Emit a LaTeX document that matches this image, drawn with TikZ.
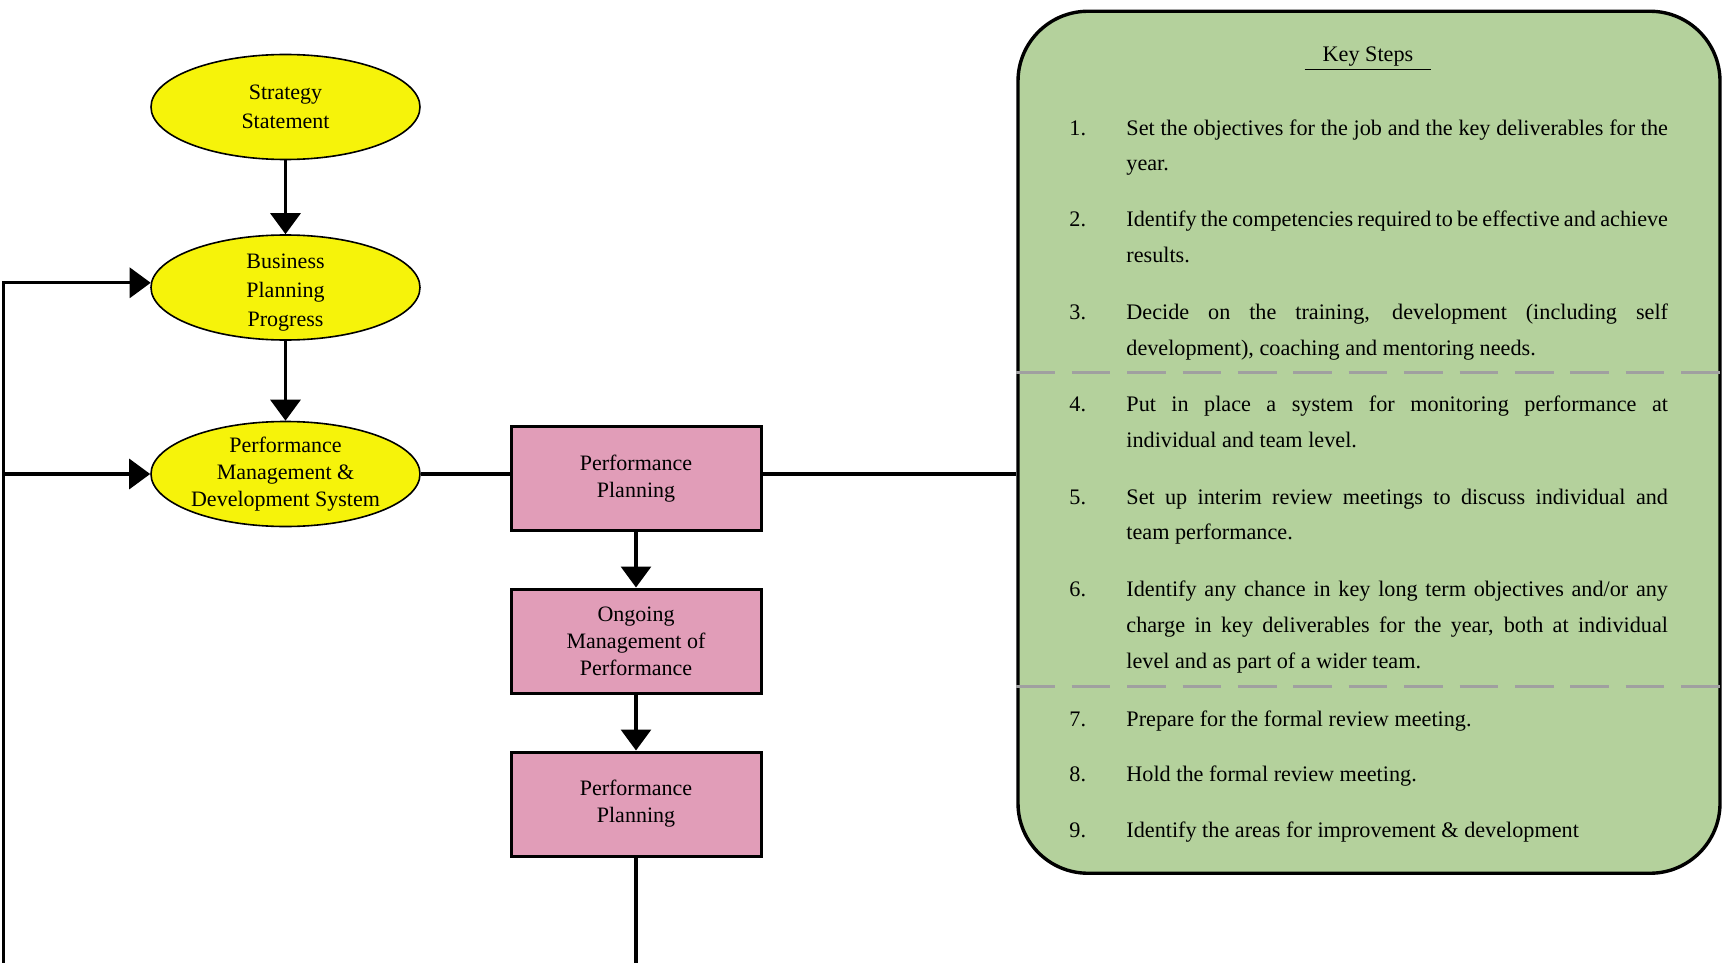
\documentclass[tikz,border=0pt]{standalone}
\usepackage{fontspec}
\setmainfont{Liberation Serif}
\usetikzlibrary{shapes,arrows.meta}
\definecolor{ovalyellow}{RGB}{246,243,10}
\definecolor{boxpink}{RGB}{225,157,184}
\definecolor{panelgreen}{RGB}{180,209,156}
\definecolor{dashgrey}{RGB}{160,160,160}
\tolerance=10000 \hbadness=10000

\begin{document}
\begin{tikzpicture}[x=0.5pt,y=-0.5pt]
   \useasboundingbox (0,0) rectangle (1729,963);
   \tikzstyle{oval}=[ellipse, draw=black, line width=0.8pt, fill=ovalyellow, minimum width=134.5pt, minimum height=52.5pt, inner xsep=0pt, inner ysep=-4pt, align=center, font=\fontsize{11}{14.3}\selectfont]
   \tikzstyle{stage}=[rectangle, draw=black, line width=1.5pt, fill=boxpink, minimum width=125pt, minimum height=52pt, inner sep=0pt, align=center, font=\fontsize{11}{13.5}\selectfont]
   \tikzstyle{panel}=[rectangle, rounded corners=35pt, draw=black, line width=1.7pt, fill=panelgreen, minimum width=351pt, minimum height=431pt]
   \tikzstyle{num}=[anchor=base west, inner sep=0pt, font=\fontsize{11.1}{17.9}\selectfont]
   \tikzstyle{item}=[anchor=base west, inner sep=0pt, text width=270.8pt, align=justify, font=\fontsize{11.1}{17.9}\selectfont]
   \tikzstyle{link}=[line width=1.6pt]
   \tikzstyle{flow}=[link, -{Triangle[length=10.5pt,width=15pt]}]
   \tikzstyle{divider}=[line width=1.5pt, draw=dashgrey, dash pattern=on 19.3pt off 8.4pt]

   \node[oval] (strategy) at (285.5,107) {Strategy\\Statement};
   \node[oval, label={[align=center, yshift=-2.5pt, font=\fontsize{11}{14.3}\selectfont]center:Business\\Planning\\Progress}] (business) at (285.5,287.5) {};
   \node[oval, font=\fontsize{11}{13.5}\selectfont] (pmds) at (285.5,474) {Performance\\Management \&\\Development System};

   \node[stage] (plan1) at (636,478.5) {Performance\\Planning};
   \node[stage] (ongoing) at (636,641) {Ongoing\\Management of\\Performance};
   \node[stage] (plan2) at (636,804) {Performance\\Planning};

   \node[panel] (keysteps) at (1369,442.25) {};
   \node[anchor=base, inner sep=0pt, font=\fontsize{11.1}{14}\selectfont] (title) at (1368,62) {\underline{\hspace{9pt}Key Steps\hspace{9pt}}};
   \draw[divider] (keysteps.west |- 0,372) -- (keysteps.east |- 0,372);
   \draw[divider] (keysteps.west |- 0,686.7) -- (keysteps.east |- 0,686.7);

   \foreach \n/\y/\txt in {
      1/135/{Set the objectives for the job and the key deliverables for the\linebreak year.},
      2/226.6/{Identify the competencies required to be effective and achieve\linebreak results.},
      3/319.2/{Decide on the training, development (including self\linebreak development), coaching and mentoring needs.},
      4/411.7/{Put in place a system for monitoring performance at\linebreak individual and team level.},
      5/504/{Set up interim review meetings to discuss individual and\linebreak team performance.},
      6/596.7/{Identify any chance in key long term objectives and/or any\linebreak charge in key deliverables for the year, both at individual\linebreak level and as part of a wider team.},
      7/726/{Prepare for the formal review meeting.},
      8/781.5/{Hold the formal review meeting.},
      9/837.5/{Identify the areas for improvement \& development}} {
      \node[num] (num\n) at (1069,\y) {\n.};
      \node[item] (step\n) at (1126,\y) {\txt};
   }

   \coordinate (loopend) at (3.5,975);
   \coordinate (loopjoin) at (loopend |- pmds.west);
   \coordinate (planend) at (636,975);

   \draw[flow] (strategy) -- (business);
   \draw[flow] (business) -- (pmds);
   \draw[flow] (loopend) |- (business.178);
   \draw[flow] (loopjoin) -- (pmds.west);
   \draw[link] (pmds.east) -- (pmds.east -| plan1.west);
   \draw[link] (plan1.east |- pmds.east) -- (keysteps.west |- pmds.east);
   \draw[flow] (plan1) -- (ongoing);
   \draw[flow] (ongoing) -- (plan2);
   \draw[link] (plan2) -- (planend);
\end{tikzpicture}
\end{document}
